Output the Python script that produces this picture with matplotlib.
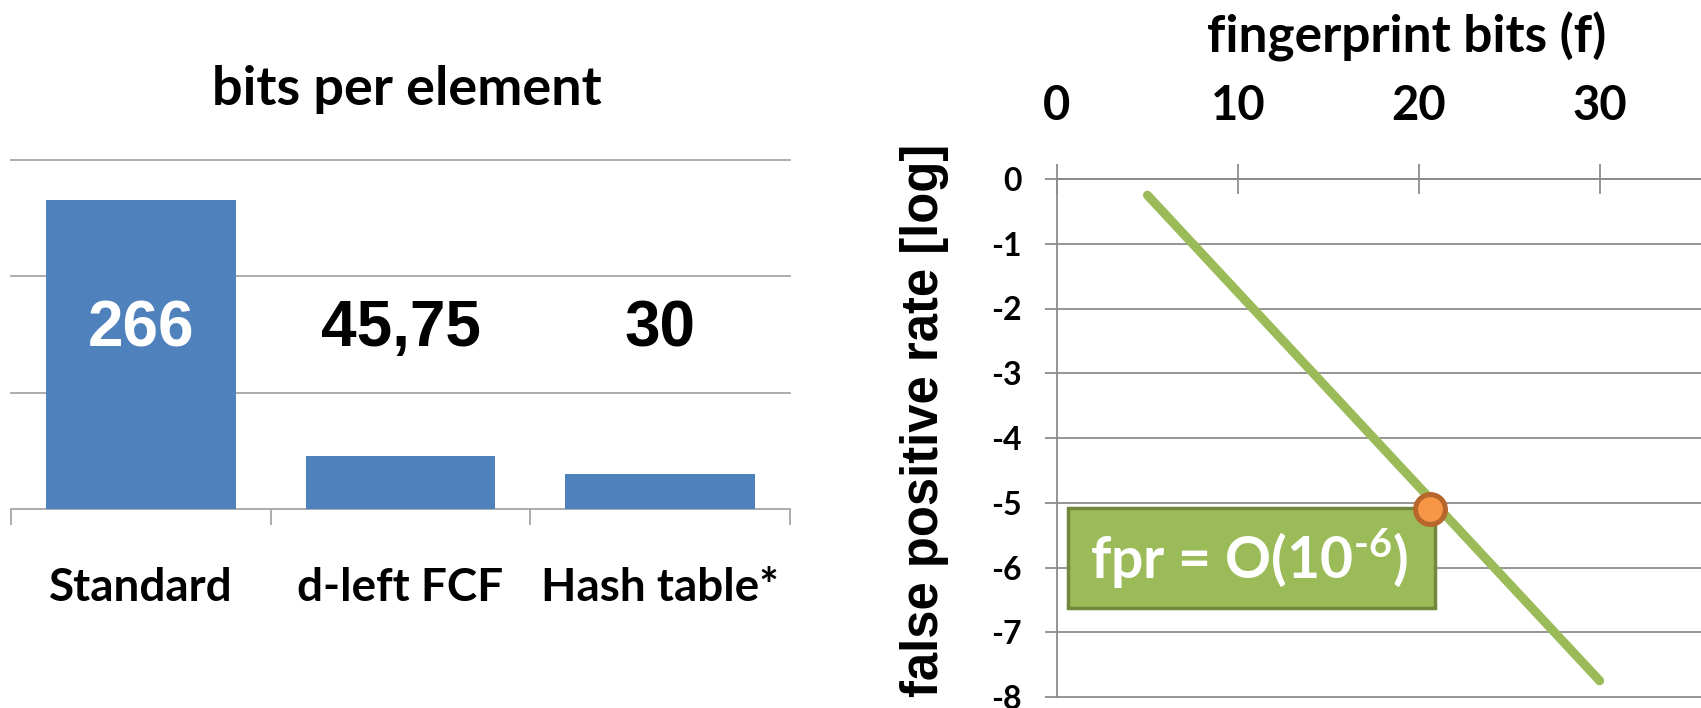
import matplotlib.pyplot as plt
from matplotlib.patches import Rectangle

# --- DATA ---
CATEGORIES = ["Standard", "d-left FCF", "Hash table*"]
BITS_PER_ELEMENT = [266, 45.75, 30]
VALUE_LABELS = ["266", "45,75", "30"]

FINGERPRINT_BITS = [5, 30]
FPR_LOG = [-0.25, -7.75]

MARK_F = 20.6
MARK_FPR = -5.1

X_TICKS = [0, 10, 20, 30]
Y_TICKS = [-8, -7, -6, -5, -4, -3, -2, -1, 0]

# --- STYLE ---
BAR_BLUE = '#4F81BD'
GREEN = '#9BBB59'
GREEN_EDGE = '#71893F'
ORANGE = '#F79646'
ORANGE_EDGE = '#B7662C'
GRID_L = '#a6a6a6'
GRID_R = '#8c8c8c'

W, H = 1701, 708

plt.rcParams['font.family'] = ['Lato', 'DejaVu Sans']
plt.rcParams['font.weight'] = 'bold'
plt.rcParams['axes.unicode_minus'] = False
plt.rcParams['mathtext.fontset'] = 'custom'
plt.rcParams['mathtext.rm'] = 'Lato:bold'
plt.rcParams['mathtext.it'] = 'Lato:bold'
plt.rcParams['mathtext.bf'] = 'Lato:bold'
plt.rcParams['mathtext.default'] = 'rm'


def px_box(x0, y_top, x1, y_bottom):
    # pixel rect (from top-left) -> figure fraction
    return [x0 / W, 1 - y_bottom / H, (x1 - x0) / W, (y_bottom - y_top) / H]


fig = plt.figure(figsize=(W / 100, H / 100), dpi=100)

# --- left: bits per element ---
ax1 = fig.add_axes(px_box(11, 160, 790, 509))
xs = list(range(len(CATEGORIES)))
ax1.bar(xs, BITS_PER_ELEMENT, width=0.73, color=BAR_BLUE, zorder=3)
ax1.set_xlim(-0.5, 2.5)
ax1.set_ylim(0, 300)
ax1.set_yticks([100, 200, 300])
ax1.yaxis.grid(True, color=GRID_L, lw=1.3)
ax1.set_axisbelow(True)
for gl in ax1.get_ygridlines():
    gl.set_clip_on(False)
ax1.tick_params(axis='y', length=0, labelleft=False)
ax1.set_xticks(xs, CATEGORIES, fontsize=33)
ax1.set_xticks([-0.5, 0.5, 1.5, 2.5], minor=True)
ax1.tick_params(axis='x', which='major', length=0, pad=42)
ax1.tick_params(axis='x', which='minor', length=11.5, width=1.3, color=GRID_L)
for s in ['left', 'right', 'top']:
    ax1.spines[s].set_visible(False)
ax1.spines['bottom'].set_color(GRID_L)
ax1.spines['bottom'].set_linewidth(1.3)

label_colors = ['white', 'black', 'black']
for i, (lab, c) in enumerate(zip(VALUE_LABELS, label_colors)):
    ax1.text(i, 140, lab, ha='center', va='baseline', fontsize=46,
             family='Liberation Sans', color=c, zorder=4)

fig.text(407 / W, 1 - 105 / H, 'bits per element', ha='center', va='baseline', fontsize=39)

# --- right: false positive rate ---
ax2 = fig.add_axes(px_box(1057, 179, 1701, 697))
ax2.set_xlim(0, 35.6)
ax2.set_ylim(-8, 0)
ax2.plot(FINGERPRINT_BITS, FPR_LOG, color=GREEN, lw=6.5, solid_capstyle='round', zorder=3)

ax2.add_patch(Rectangle((0.61, -6.63), 20.3, 1.55, facecolor=GREEN, edgecolor=GREEN_EDGE,
                        lw=2.5, zorder=4))
ax2.text(10.6, -6.18, 'fpr = O(10$^{\\text{-6}}$)', ha='center', va='baseline', fontsize=41,
         color='white', zorder=5)
ax2.plot([MARK_F], [MARK_FPR], 'o', ms=21.5, mfc=ORANGE, mec=ORANGE_EDGE, mew=3.6,
         zorder=6, clip_on=False)

ax2.xaxis.tick_top()
ax2.set_xticks(X_TICKS)
ax2.set_yticks(Y_TICKS)
ax2.tick_params(axis='x', direction='inout', length=21.6, width=1.3, color=GRID_R,
                labelsize=34, pad=26)
ax2.tick_params(axis='y', direction='out', length=8.6, width=1.3, color=GRID_R,
                labelsize=23, pad=17)
ax2.yaxis.grid(True, color=GRID_R, lw=1.3)
ax2.set_axisbelow(True)
for gl in ax2.get_ygridlines():
    gl.set_clip_on(False)
for s in ['right', 'bottom']:
    ax2.spines[s].set_visible(False)
for s in ['left', 'top']:
    ax2.spines[s].set_color(GRID_R)
    ax2.spines[s].set_linewidth(1.3)

fig.text(1407 / W, 1 - 53 / H, 'fingerprint bits (f)', ha='center', va='baseline', fontsize=37)
fig.text(924 / W, 1 - 420 / H, 'false positive rate [log]', rotation=90, ha='center',
         va='center', family='Liberation Sans', fontsize=36.5)

fig.savefig('out.png', dpi=100)
